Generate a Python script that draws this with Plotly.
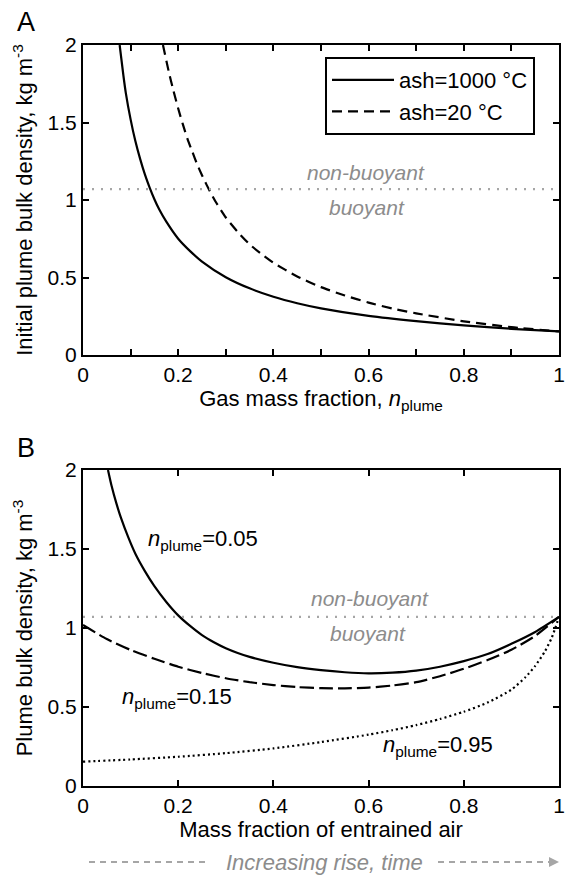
import plotly.graph_objects as go

# ---------------- Data ----------------
# Panel A: initial plume bulk density vs gas mass fraction
a_x_hot = [0.077, 0.085, 0.09, 0.1, 0.11, 0.12, 0.13, 0.14, 0.15, 0.16, 0.175, 0.2, 0.225, 0.25,
           0.3, 0.35, 0.4, 0.45, 0.5, 0.6, 0.7, 0.8, 0.9, 1.0]
a_y_hot = [2.0, 1.80, 1.69, 1.52, 1.38, 1.265, 1.165, 1.08, 1.005, 0.94, 0.86, 0.75, 0.67, 0.603,
           0.502, 0.43, 0.376, 0.334, 0.301, 0.252, 0.218, 0.191, 0.169, 0.152]

a_x_cold = [0.168, 0.18, 0.19, 0.2, 0.21, 0.22, 0.23, 0.24, 0.25, 0.26, 0.27, 0.28, 0.3, 0.325,
            0.35, 0.375, 0.4, 0.45, 0.5, 0.55, 0.6, 0.65, 0.7, 0.8, 0.9, 1.0]
a_y_cold = [2.0, 1.83, 1.705, 1.59, 1.486, 1.39, 1.309, 1.229, 1.16, 1.096, 1.037, 0.982, 0.887, 0.794,
            0.714, 0.651, 0.595, 0.507, 0.438, 0.384, 0.338, 0.30, 0.269, 0.2175, 0.18, 0.152]

# Panel B: plume bulk density vs mass fraction of entrained air
b_x_005 = [0.0525, 0.06, 0.07, 0.08, 0.095, 0.11, 0.13, 0.15, 0.175, 0.2, 0.225, 0.25, 0.275, 0.3,
           0.325, 0.35, 0.4, 0.45, 0.5, 0.55, 0.6, 0.65, 0.7, 0.75, 0.8, 0.85, 0.9, 0.95, 1.0]
b_y_005 = [2.0, 1.9, 1.79, 1.695, 1.575, 1.47, 1.36, 1.265, 1.165, 1.08, 1.013, 0.955, 0.91, 0.872,
           0.842, 0.817, 0.78, 0.752, 0.733, 0.72, 0.713, 0.717, 0.73, 0.755, 0.79, 0.835, 0.9, 0.975, 1.07]

b_x_015 = [0.0, 0.05, 0.1, 0.15, 0.2, 0.25, 0.3, 0.35, 0.4, 0.45, 0.5, 0.55, 0.6, 0.65, 0.7,
           0.75, 0.8, 0.85, 0.9, 0.95, 1.0]
b_y_015 = [1.019, 0.93, 0.861, 0.805, 0.755, 0.715, 0.682, 0.657, 0.639, 0.626, 0.619, 0.618, 0.623,
           0.636, 0.657, 0.695, 0.742, 0.797, 0.862, 0.95, 1.07]

b_x_095 = [0.0, 0.1, 0.2, 0.3, 0.4, 0.5, 0.6, 0.65, 0.7, 0.75, 0.8, 0.85, 0.9, 0.93, 0.95, 0.97,
           0.985, 1.0]
b_y_095 = [0.154, 0.168, 0.185, 0.208, 0.238, 0.278, 0.325, 0.353, 0.385, 0.424, 0.47, 0.528, 0.61,
           0.69, 0.76, 0.85, 0.94, 1.07]

threshold_x = [0, 1]
threshold_y = [1.07, 1.07]

x_ticks = [0, 0.2, 0.4, 0.6, 0.8, 1.0]
x_text = ['0', '0.2', '0.4', '0.6', '0.8', '1']
y_ticks = [0, 0.5, 1, 1.5, 2]
y_text = ['0', '0.5', '1', '1.5', '2']

# ---------------- Figure ----------------
W, H = 569, 875
FONT = 'Liberation Sans, Arial, Helvetica, sans-serif'
GRAY = '#8c8c8c'
LGRAY = '#a6a6a6'


def px(x):
    return x / W


def py(y):
    return 1 - y / H


fig = go.Figure()

line_w = 2.2
smooth = 0.6
fig.add_trace(go.Scatter(x=a_x_hot, y=a_y_hot, mode='lines', name='ash=1000 °C',
                         line=dict(color='black', width=line_w, shape='spline', smoothing=smooth),
                         xaxis='x', yaxis='y'))
fig.add_trace(go.Scatter(x=a_x_cold, y=a_y_cold, mode='lines', name='ash=20 °C',
                         line=dict(color='black', width=line_w, dash='10px,6px', shape='spline', smoothing=smooth),
                         xaxis='x', yaxis='y'))
fig.add_trace(go.Scatter(x=threshold_x, y=threshold_y, mode='lines', showlegend=False,
                         line=dict(color=LGRAY, width=2.2, dash='2px,7px'),
                         xaxis='x', yaxis='y'))

fig.add_trace(go.Scatter(x=b_x_005, y=b_y_005, mode='lines', showlegend=False,
                         line=dict(color='black', width=line_w, shape='spline', smoothing=smooth),
                         xaxis='x2', yaxis='y2'))
fig.add_trace(go.Scatter(x=b_x_015, y=b_y_015, mode='lines', showlegend=False,
                         line=dict(color='black', width=line_w, dash='14px,5px', shape='spline', smoothing=smooth),
                         xaxis='x2', yaxis='y2'))
fig.add_trace(go.Scatter(x=b_x_095, y=b_y_095, mode='lines', showlegend=False,
                         line=dict(color='black', width=line_w, dash='2px,3px', shape='spline', smoothing=smooth),
                         xaxis='x2', yaxis='y2'))
fig.add_trace(go.Scatter(x=threshold_x, y=threshold_y, mode='lines', showlegend=False,
                         line=dict(color=LGRAY, width=2.2, dash='2px,7px'),
                         xaxis='x2', yaxis='y2'))

axis_common = dict(showgrid=False, zeroline=False, showline=True, linecolor='black', linewidth=2,
                   mirror='ticks', ticks='inside', ticklen=6, tickwidth=1.5, tickcolor='black',
                   automargin=False,
                   tickfont=dict(size=21, color='black', family=FONT), range=[0, 1])
yaxis_common = dict(axis_common)
yaxis_common['range'] = [0, 2]

minor_a = dict(dtick=0.1, tick0=0, ticks='inside', ticklen=6, tickwidth=1.5, tickcolor='black', showgrid=False)

xdom = [px(83), px(559)]
fig.update_layout(
    template='none',
    width=W, height=H,
    margin=dict(l=0, r=0, t=0, b=0, pad=0),
    paper_bgcolor='white', plot_bgcolor='white',
    font=dict(family=FONT, size=21, color='black'),
    xaxis=dict(axis_common, domain=xdom, anchor='y', tickmode='array', tickvals=x_ticks, ticktext=x_text,
               minor=minor_a,
               title=dict(text='Gas mass fraction, <i>n</i><sub>plume</sub>', font=dict(size=22), standoff=2)),
    yaxis=dict(yaxis_common, domain=[py(355), py(45)], anchor='x', tickmode='array', tickvals=y_ticks, ticktext=y_text,
               title=dict(text='Initial plume bulk density, kg m<sup>-3</sup>', font=dict(size=22), standoff=9)),
    xaxis2=dict(axis_common, domain=xdom, anchor='y2', tickmode='array', tickvals=x_ticks, ticktext=x_text,
                title=dict(text='Mass fraction of entrained air', font=dict(size=22), standoff=4)),
    yaxis2=dict(yaxis_common, domain=[py(786), py(470)], anchor='x2', tickmode='array', tickvals=y_ticks, ticktext=y_text,
                title=dict(text='Plume bulk density, kg m<sup>-3</sup>', font=dict(size=22), standoff=9)),
    legend=dict(x=px(325), y=py(57), xanchor='left', yanchor='top', bordercolor='black', borderwidth=2,
                bgcolor='white', font=dict(size=22, family=FONT, color='black'), itemwidth=62,
                tracegroupgap=0),
    showlegend=True,
)

annots = [
    dict(text='A', x=px(26), y=py(22), xanchor='center', yanchor='middle', xref='paper', yref='paper',
         showarrow=False, font=dict(size=27)),
    dict(text='B', x=px(26), y=py(448), xanchor='center', yanchor='middle', xref='paper', yref='paper',
         showarrow=False, font=dict(size=27)),
    dict(text='<i>non-buoyant</i>', x=0.595, y=1.175, xref='x', yref='y', xanchor='center', yanchor='middle',
         showarrow=False, font=dict(size=21, color=GRAY)),
    dict(text='<i>buoyant</i>', x=0.597, y=0.95, xref='x', yref='y', xanchor='center', yanchor='middle',
         showarrow=False, font=dict(size=21, color=GRAY)),
    dict(text='<i>non-buoyant</i>', x=0.602, y=1.188, xref='x2', yref='y2', xanchor='center', yanchor='middle',
         showarrow=False, font=dict(size=21, color=GRAY)),
    dict(text='<i>buoyant</i>', x=0.599, y=0.966, xref='x2', yref='y2', xanchor='center', yanchor='middle',
         showarrow=False, font=dict(size=21, color=GRAY)),
    dict(text='<i>n</i><sub>plume</sub>=0.05', x=0.133, y=1.56, xref='x2', yref='y2', xanchor='left',
         yanchor='middle', showarrow=False, font=dict(size=22)),
    dict(text='<i>n</i><sub>plume</sub>=0.15', x=0.077, y=0.56, xref='x2', yref='y2', xanchor='left',
         yanchor='middle', showarrow=False, font=dict(size=22)),
    dict(text='<i>n</i><sub>plume</sub>=0.95', x=0.627, y=0.255, xref='x2', yref='y2', xanchor='left',
         yanchor='middle', showarrow=False, font=dict(size=22)),
    dict(text='<i>Increasing rise, time</i>', x=px(324), y=py(862), xref='paper', yref='paper',
         xanchor='center', yanchor='middle', showarrow=False, font=dict(size=22, color=GRAY)),
]
fig.update_layout(annotations=annots)

shapes = [
    dict(type='line', xref='paper', yref='paper', x0=px(89), x1=px(210), y0=py(862), y1=py(862),
         line=dict(color=LGRAY, width=2, dash='6px,5px')),
    dict(type='line', xref='paper', yref='paper', x0=px(438), x1=px(549), y0=py(862), y1=py(862),
         line=dict(color=LGRAY, width=2, dash='6px,5px')),
    dict(type='path', xref='paper', yref='paper',
         path=f'M {px(549)} {py(857)} L {px(559)} {py(862)} L {px(549)} {py(867)} Z',
         fillcolor=LGRAY, line=dict(color=LGRAY, width=0)),
]
fig.update_layout(shapes=shapes)

fig.write_html('out.html', config={'displayModeBar': False},
               post_script="document.body.style.margin='0px';")
